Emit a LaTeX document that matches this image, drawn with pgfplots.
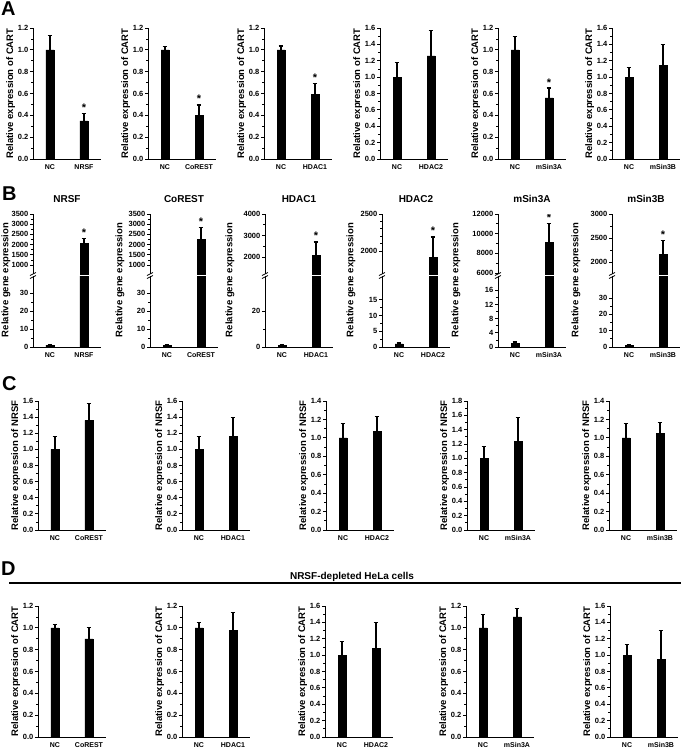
\documentclass[border=0pt]{standalone}
\usepackage{fontspec}
\setmainfont{Liberation Sans}
\usepackage{pgfplots}
\pgfplotsset{compat=1.18}
\pgfplotsset{
  base/.style={scale only axis, width=68pt, xmin=0.5, xmax=2.5, ymin=0,
    axis y line*=left, axis line style={line width=0.9pt, black},
    tick align=outside, major tick length=3pt, minor tick length=1.7pt,
    ytick style={line width=0.8pt, black}, xtick style={draw=none},
    xtick={1,2}, scaled y ticks=false,
    yticklabel style={font=\fontsize{7.5}{8}\selectfont\bfseries, inner sep=1.5pt,
      /pgf/number format/assume math mode=true, /pgf/number format/1000 sep={}},
    xticklabel style={font=\fontsize{7}{8}\selectfont\bfseries, inner sep=2pt},
    ylabel style={font=\fontsize{9.5}{11}\selectfont\bfseries, inner sep=1pt}},
  dec/.style={yticklabel style={/pgf/number format/.cd, fixed, fixed zerofill, precision=1}},
  pa/.style={base, dec, axis x line*=bottom, minor y tick num=1},
  pbu/.style={base, axis x line=none, height=60pt, minor y tick num=1,
    yticklabel style={/pgf/number format/.cd, fixed, precision=0},
    title style={font=\fontsize{10}{12}\selectfont\bfseries, at={(0.5,1)}, anchor=base, yshift=6pt}},
  pbl/.style={base, axis x line*=bottom, height=71pt, minor y tick num=1,
    yticklabel style={/pgf/number format/.cd, fixed, precision=0}},
  barsty/.style={ybar, bar width=8pt, bar shift=0pt, fill=black, draw=black,
    error bars/.cd, y dir=plus, y explicit,
    error bar style={line width=1.4pt, black},
    error mark options={rotate=90, line width=1.2pt, mark size=2.4pt, black}}
}
\newcommand{\sig}[2]{\node[font=\fontsize{11}{12}\selectfont\bfseries, anchor=base, inner sep=0pt, yshift=2pt] at (axis cs:#1,#2) {*};}
\newcommand{\brk}[1]{%
  \draw[line width=0.7pt] (#1pt-3pt,-275.5pt) -- (#1pt+3pt,-272.5pt);
  \draw[line width=0.7pt] (#1pt-3pt,-278.5pt) -- (#1pt+3pt,-275.5pt);}
\newcommand{\blab}[1]{\node[rotate=90, font=\fontsize{9.5}{11}\selectfont\bfseries] at (#1pt,-280pt) {Relative gene expression};}
\begin{document}
\begin{tikzpicture}
\useasboundingbox (0,0) rectangle (683pt,-748pt);
% panel letters
\node[anchor=base west, inner sep=0pt, font=\fontsize{20}{22}\selectfont\bfseries] at (1pt,-15pt) {A};
\node[anchor=base west, inner sep=0pt, font=\fontsize{20}{22}\selectfont\bfseries] at (2pt,-200pt) {B};
\node[anchor=base west, inner sep=0pt, font=\fontsize{20}{22}\selectfont\bfseries] at (2pt,-390pt) {C};
\node[anchor=base west, inner sep=0pt, font=\fontsize{20}{22}\selectfont\bfseries] at (1pt,-575pt) {D};

% ---------------- A ----------------
\begin{axis}[pa, at={(33pt,-159pt)}, anchor=south west, height=131pt, ymax=1.2,
  ytick={0,0.2,0.4,0.6,0.8,1.0,1.2}, xticklabels={NC,NRSF}, ylabel={Relative expression of CART}]
\addplot[barsty] coordinates {(1,1.0) +- (0,0.135) (2,0.35) +- (0,0.07)};
\sig{2}{0.42}
\end{axis}
\begin{axis}[pa, at={(148pt,-159pt)}, anchor=south west, height=131pt, ymax=1.2,
  ytick={0,0.2,0.4,0.6,0.8,1.0,1.2}, xticklabels={NC,CoREST}, ylabel={Relative expression of CART}]
\addplot[barsty] coordinates {(1,1.0) +- (0,0.03) (2,0.40) +- (0,0.095)};
\sig{2}{0.495}
\end{axis}
\begin{axis}[pa, at={(264pt,-159pt)}, anchor=south west, height=131pt, ymax=1.2,
  ytick={0,0.2,0.4,0.6,0.8,1.0,1.2}, xticklabels={NC,HDAC1}, ylabel={Relative expression of CART}]
\addplot[barsty] coordinates {(1,1.0) +- (0,0.035) (2,0.59) +- (0,0.10)};
\sig{2}{0.69}
\end{axis}
\begin{axis}[pa, at={(380pt,-159pt)}, anchor=south west, height=131pt, ymax=1.6,
  ytick={0,0.2,0.4,0.6,0.8,1.0,1.2,1.4,1.6}, xticklabels={NC,HDAC2}, ylabel={Relative expression of CART}]
\addplot[barsty] coordinates {(1,1.0) +- (0,0.18) (2,1.26) +- (0,0.31)};
\end{axis}
\begin{axis}[pa, at={(498pt,-159pt)}, anchor=south west, height=131pt, ymax=1.2,
  ytick={0,0.2,0.4,0.6,0.8,1.0,1.2}, xticklabels={NC,mSin3A}, ylabel={Relative expression of CART}]
\addplot[barsty] coordinates {(1,1.0) +- (0,0.12) (2,0.56) +- (0,0.09)};
\sig{2}{0.65}
\end{axis}
\begin{axis}[pa, at={(612pt,-159pt)}, anchor=south west, height=131pt, ymax=1.6,
  ytick={0,0.2,0.4,0.6,0.8,1.0,1.2,1.4,1.6}, xticklabels={NC,mSin3B}, ylabel={Relative expression of CART}]
\addplot[barsty] coordinates {(1,1.0) +- (0,0.12) (2,1.14) +- (0,0.26)};
\end{axis}

% ---------------- B ----------------
% (lower halves of the broken axes: the treated bar runs past the top and is clipped)
% B1 NRSF
\begin{axis}[pbu, at={(33pt,-274pt)}, anchor=south west, ymin=560, ymax=3500,
  ytick={1000,1500,2000,2500,3000,3500}, title={NRSF}]
\addplot[barsty] coordinates {(2,2050) +- (0,260)};
\sig{2}{2310}
\end{axis}
\begin{axis}[pbl, at={(33pt,-347pt)}, anchor=south west, ymax=39.5,
  ytick={0,10,20,30}, xticklabels={NC,NRSF}]
\addplot[barsty] coordinates {(1,1) +- (0,0.4) (2,60) +- (0,0)};
\end{axis}
\brk{33}\blab{6}
% B2 CoREST
\begin{axis}[pbu, at={(150pt,-274pt)}, anchor=south west, ymin=560, ymax=3500,
  ytick={1000,1500,2000,2500,3000,3500}, title={CoREST}]
\addplot[barsty] coordinates {(2,2250) +- (0,600)};
\sig{2}{2850}
\end{axis}
\begin{axis}[pbl, at={(150pt,-347pt)}, anchor=south west, ymax=39.5,
  ytick={0,10,20,30}, xticklabels={NC,CoREST}]
\addplot[barsty] coordinates {(1,1) +- (0,0.4) (2,60) +- (0,0)};
\end{axis}
\brk{150}\blab{120}
% B3 HDAC1
\begin{axis}[pbu, at={(265pt,-274pt)}, anchor=south west, ymin=1210, ymax=4000,
  ytick={2000,3000,4000}, title={HDAC1}]
\addplot[barsty] coordinates {(2,2100) +- (0,600)};
\sig{2}{2700}
\end{axis}
\begin{axis}[pbl, at={(265pt,-347pt)}, anchor=south west, ymax=39.5,
  ytick={0,20}, xticklabels={NC,HDAC1}]
\addplot[barsty] coordinates {(1,1) +- (0,0.4) (2,60) +- (0,0)};
\end{axis}
\brk{265}\blab{230}
% B4 HDAC2
\begin{axis}[pbu, at={(382pt,-274pt)}, anchor=south west, ymin=1690, ymax=2500,
  ytick={2000,2500}, minor y tick num=4, title={HDAC2}]
\addplot[barsty] coordinates {(2,1920) +- (0,270)};
\sig{2}{2190}
\end{axis}
\begin{axis}[pbl, at={(382pt,-347pt)}, anchor=south west, ymax=22.5,
  ytick={0,5,10,15}, xticklabels={NC,HDAC2}]
\addplot[barsty] coordinates {(1,1) +- (0,0.3) (2,40) +- (0,0)};
\end{axis}
\brk{382}\blab{351}
% B5 mSin3A
\begin{axis}[pbu, at={(498pt,-274pt)}, anchor=south west, ymin=5900, ymax=12000,
  ytick={6000,8000,10000,12000}, title={mSin3A}]
\addplot[barsty] coordinates {(2,9150) +- (0,1850)};
\sig{2}{11000}
\end{axis}
\begin{axis}[pbl, at={(498pt,-347pt)}, anchor=south west, ymax=20,
  ytick={0,4,8,12,16}, xticklabels={NC,mSin3A}]
\addplot[barsty] coordinates {(1,1) +- (0,0.4) (2,40) +- (0,0)};
\end{axis}
\brk{498}\blab{456}
% B6 mSin3B
\begin{axis}[pbu, at={(612pt,-274pt)}, anchor=south west, ymin=1750, ymax=3000,
  ytick={2000,2500,3000}, title={mSin3B}]
\addplot[barsty] coordinates {(2,2170) +- (0,280)};
\sig{2}{2450}
\end{axis}
\begin{axis}[pbl, at={(612pt,-347pt)}, anchor=south west, ymax=43.5,
  ytick={0,10,20,30}, xticklabels={NC,mSin3B}]
\addplot[barsty] coordinates {(1,1) +- (0,0.4) (2,80) +- (0,0)};
\end{axis}
\brk{612}\blab{576}

% ---------------- C ----------------
\begin{axis}[pa, at={(38pt,-530pt)}, anchor=south west, height=129pt, ymax=1.6,
  ytick={0,0.2,0.4,0.6,0.8,1.0,1.2,1.4,1.6}, xticklabels={NC,CoREST}, ylabel={Relative expression of NRSF}]
\addplot[barsty] coordinates {(1,1.0) +- (0,0.16) (2,1.36) +- (0,0.21)};
\end{axis}
\begin{axis}[pa, at={(182pt,-530pt)}, anchor=south west, height=129pt, ymax=1.6,
  ytick={0,0.2,0.4,0.6,0.8,1.0,1.2,1.4,1.6}, xticklabels={NC,HDAC1}, ylabel={Relative expression of NRSF}]
\addplot[barsty] coordinates {(1,1.0) +- (0,0.16) (2,1.165) +- (0,0.235)};
\end{axis}
\begin{axis}[pa, at={(326pt,-530pt)}, anchor=south west, height=129pt, ymax=1.4,
  ytick={0,0.2,0.4,0.6,0.8,1.0,1.2,1.4}, xticklabels={NC,HDAC2}, ylabel={Relative expression of NRSF}]
\addplot[barsty] coordinates {(1,1.0) +- (0,0.16) (2,1.07) +- (0,0.16)};
\end{axis}
\begin{axis}[pa, at={(467pt,-530pt)}, anchor=south west, height=129pt, ymax=1.8,
  ytick={0,0.2,0.4,0.6,0.8,1.0,1.2,1.4,1.6,1.8}, xticklabels={NC,mSin3A}, ylabel={Relative expression of NRSF}]
\addplot[barsty] coordinates {(1,1.0) +- (0,0.16) (2,1.24) +- (0,0.33)};
\end{axis}
\begin{axis}[pa, at={(609pt,-530pt)}, anchor=south west, height=129pt, ymax=1.4,
  ytick={0,0.2,0.4,0.6,0.8,1.0,1.2,1.4}, xticklabels={NC,mSin3B}, ylabel={Relative expression of NRSF}]
\addplot[barsty] coordinates {(1,1.0) +- (0,0.16) (2,1.05) +- (0,0.12)};
\end{axis}

% ---------------- D ----------------
\draw[line width=1.5pt] (9pt,-583pt) -- (681pt,-583pt);
\node[anchor=base, inner sep=0pt, font=\fontsize{10}{12}\selectfont\bfseries] at (352pt,-579pt) {NRSF-depleted HeLa cells};
\begin{axis}[pa, at={(38pt,-737pt)}, anchor=south west, height=131pt, ymax=1.2,
  ytick={0,0.2,0.4,0.6,0.8,1.0,1.2}, xticklabels={NC,CoREST}, ylabel={Relative expression of CART}]
\addplot[barsty] coordinates {(1,1.0) +- (0,0.03) (2,0.90) +- (0,0.10)};
\end{axis}
\begin{axis}[pa, at={(182pt,-737pt)}, anchor=south west, height=131pt, ymax=1.2,
  ytick={0,0.2,0.4,0.6,0.8,1.0,1.2}, xticklabels={NC,HDAC1}, ylabel={Relative expression of CART}]
\addplot[barsty] coordinates {(1,1.0) +- (0,0.05) (2,0.98) +- (0,0.16)};
\end{axis}
\begin{axis}[pa, at={(325pt,-737pt)}, anchor=south west, height=131pt, ymax=1.6,
  ytick={0,0.2,0.4,0.6,0.8,1.0,1.2,1.4,1.6}, xticklabels={NC,HDAC2}, ylabel={Relative expression of CART}]
\addplot[barsty] coordinates {(1,1.0) +- (0,0.17) (2,1.08) +- (0,0.32)};
\end{axis}
\begin{axis}[pa, at={(466pt,-737pt)}, anchor=south west, height=131pt, ymax=1.2,
  ytick={0,0.2,0.4,0.6,0.8,1.0,1.2}, xticklabels={NC,mSin3A}, ylabel={Relative expression of CART}]
\addplot[barsty] coordinates {(1,1.0) +- (0,0.12) (2,1.10) +- (0,0.08)};
\end{axis}
\begin{axis}[pa, at={(610pt,-737pt)}, anchor=south west, height=131pt, ymax=1.6,
  ytick={0,0.2,0.4,0.6,0.8,1.0,1.2,1.4,1.6}, xticklabels={NC,mSin3B}, ylabel={Relative expression of CART}]
\addplot[barsty] coordinates {(1,1.0) +- (0,0.13) (2,0.95) +- (0,0.35)};
\end{axis}
\end{tikzpicture}
\end{document}
